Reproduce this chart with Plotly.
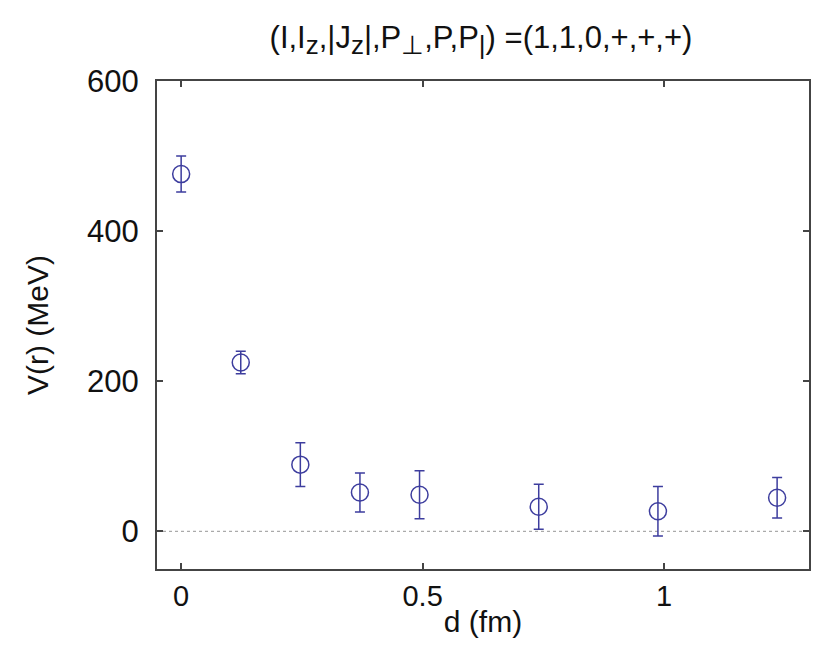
import plotly.graph_objects as go

d_fm = [0.0, 0.1234, 0.2468, 0.3702, 0.4936, 0.7404, 0.9872, 1.234]
V_MeV = [476, 225, 89, 52, 49, 33, 27, 45]
V_err = [24, 15, 29, 26, 32, 30, 33, 27]

x_ticks = [0, 0.5, 1]
y_ticks = [0, 200, 400, 600]

color = "#3d3d9e"
axis_color = "#444444"
font_family = "Liberation Sans, Arial, sans-serif"

sub = '<sub><span style="font-size:26px">{}</span></sub>'
title_text = ("(I,I" + sub.format("z") + ",|J" + sub.format("z") + "|,P" + sub.format("⊥")
              + ",P,P" + sub.format("|") + ") =(1,1,0,+,+,+)")

fig = go.Figure()
fig.add_trace(go.Scatter(
    x=d_fm, y=V_MeV, mode="markers",
    marker=dict(symbol="circle-open", size=17, color=color, line=dict(width=1.5, color=color)),
    error_y=dict(type="data", array=V_err, visible=True, color=color, thickness=1.5, width=5),
    showlegend=False,
))

fig.add_shape(type="line", xref="paper", yref="y", x0=0, x1=1, y0=0, y1=0,
              line=dict(color="#aaaaaa", width=1.2, dash="dot"), layer="below")

fig.update_layout(
    width=812, height=646,
    margin=dict(l=149, r=9, t=73, b=85),
    paper_bgcolor="white", plot_bgcolor="white",
    font=dict(family=font_family, size=30, color="#111111"),
    title=dict(text=title_text,
               x=0.5825, xanchor="center", y=0.955, yanchor="middle",
               font=dict(size=31, family=font_family, color="#111111")),
    xaxis=dict(range=[-0.05, 1.3], tickvals=x_ticks, ticktext=["0", "0.5", "1"],
               showline=True, linecolor=axis_color, linewidth=2, mirror="ticks",
               ticks="inside", ticklen=6, tickcolor=axis_color, tickwidth=1.5,
               showgrid=False, zeroline=False,
               tickfont=dict(size=29),
               title=dict(text="d (fm)", standoff=0, font=dict(size=30))),
    yaxis=dict(range=[-50, 600], tickvals=y_ticks,
               showline=True, linecolor=axis_color, linewidth=2, mirror="ticks",
               ticks="inside", ticklen=6, tickcolor=axis_color, tickwidth=1.5,
               showgrid=False, zeroline=False, ticklabelstandoff=10,
               tickfont=dict(size=31),
               title=dict(text="V(r) (MeV)", standoff=30, font=dict(size=30))),
)

fig.write_html("out.html")
